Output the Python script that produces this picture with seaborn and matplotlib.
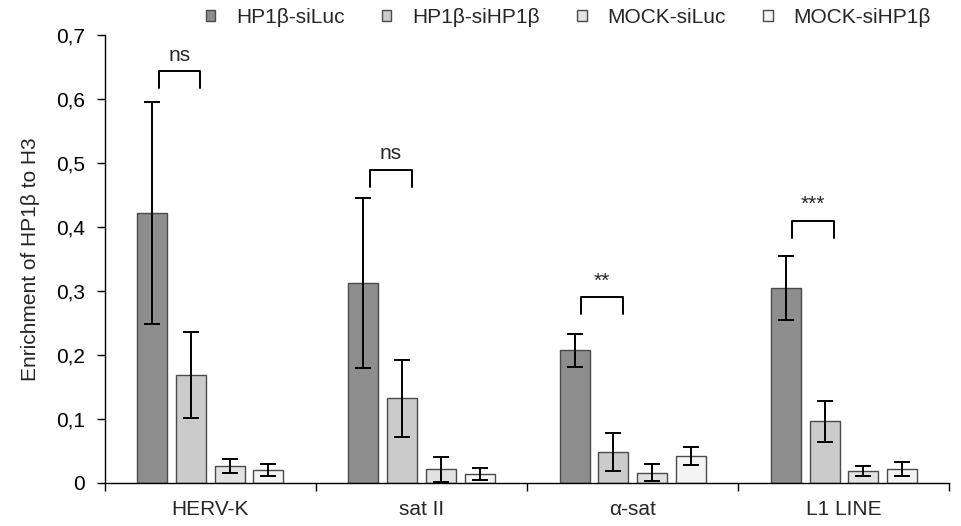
import numpy as np
import pandas as pd
import seaborn as sns
import matplotlib.pyplot as plt
from matplotlib.ticker import FuncFormatter, FixedLocator
from matplotlib.patches import Patch

# valeurs
targets = ["HERV-K", "sat II", "α-sat", "L1 LINE"]
conditions = ["HP1β-siLuc", "HP1β-siHP1β", "MOCK-siLuc", "MOCK-siHP1β"]
hp1_siluc = [0.422, 0.312, 0.207, 0.305]
hp1_sihp1 = [0.169, 0.132, 0.048, 0.096]
mock_siluc = [0.026, 0.021, 0.016, 0.018]
mock_sihp1 = [0.020, 0.014, 0.042, 0.021]
err_hp1_siluc = [0.174, 0.133, 0.026, 0.050]
err_hp1_sihp1 = [0.067, 0.060, 0.030, 0.032]
err_mock_siluc = [0.011, 0.020, 0.013, 0.008]
err_mock_sihp1 = [0.010, 0.009, 0.014, 0.011]
signif = ["ns", "ns", "**", "***"]
bracket_top = [0.644, 0.490, 0.291, 0.410]

colors = ["#8e8e8e", "#cbcbcb", "#e2e2e2", "#f4f4f4"]

means = [hp1_siluc, hp1_sihp1, mock_siluc, mock_sihp1]
errs = [err_hp1_siluc, err_hp1_sihp1, err_mock_siluc, err_mock_sihp1]

df = pd.DataFrame({
    "target": np.tile(targets, 4),
    "condition": np.repeat(conditions, 4),
    "value": np.concatenate(means),
})

sns.set_style("white")
plt.rcParams["font.family"] = ["Liberation Sans", "DejaVu Sans"]
fs = 15

fig = plt.figure(figsize=(9.61, 5.26), dpi=100)
ax = fig.add_axes([0.109, 0.082, 0.879, 0.851])

sns.barplot(data=df, x="target", y="value", hue="condition",
            order=targets, hue_order=conditions, palette=colors,
            width=0.733, gap=0.225, edgecolor="#4a4a4a", linewidth=1,
            legend=False, ax=ax)

# barres d'erreur
for cont, e in zip(ax.containers, errs):
    xs = [p.get_x() + p.get_width() / 2 for p in cont.patches]
    ys = [p.get_height() for p in cont.patches]
    ax.errorbar(xs, ys, yerr=e, fmt="none", ecolor="black",
                elinewidth=1.4, capsize=5.5, capthick=1.4, zorder=5)

# crochets de significativite
c0 = [p.get_x() + p.get_width() / 2 for p in ax.containers[0].patches]
c1 = [p.get_x() + p.get_width() / 2 for p in ax.containers[1].patches]
for x0, x1, top, lab in zip(c0, c1, bracket_top, signif):
    a, b = x0 + 0.03, x1 + 0.045
    ax.plot([a, a, b, b], [top - 0.027, top, top, top - 0.027],
            color="black", lw=1.4, clip_on=False)
    ax.text((a + b) / 2, top + 0.01, lab, ha="center", va="bottom",
            fontsize=fs)

ax.set_ylim(0, 0.7)
ax.set_xlim(-0.5, 3.5)
ax.set_yticks(np.arange(0, 0.71, 0.1))
ax.yaxis.set_major_formatter(FuncFormatter(
    lambda v, p: "0" if abs(v) < 1e-9 else f"{v:.1f}".replace(".", ",")))
ax.xaxis.set_minor_locator(FixedLocator([-0.5, 0.5, 1.5, 2.5, 3.5]))
ax.tick_params(axis="x", which="major", length=0, labelsize=fs, pad=12)
ax.tick_params(axis="x", which="minor", length=6, width=1, direction="out",
               bottom=True, color="black")
ax.tick_params(axis="y", length=6, width=1, direction="out", left=True,
               labelsize=fs, colors="black", pad=8)
ax.set_xlabel("")
ax.set_ylabel("Enrichment of HP1β to H3", fontsize=fs, labelpad=12)
sns.despine(ax=ax)
for s in ["left", "bottom"]:
    ax.spines[s].set_color("black")
    ax.spines[s].set_linewidth(1)

handles = [Patch(facecolor=c, edgecolor="#4a4a4a") for c in colors]
ax.legend(handles, conditions, ncol=4, loc="lower right",
          bbox_to_anchor=(0.988, 1.0), frameon=False, fontsize=fs,
          handlelength=0.45, handleheight=0.45, handletextpad=1.0,
          columnspacing=1.8, borderaxespad=0)

fig.savefig("out.png", dpi=100)
